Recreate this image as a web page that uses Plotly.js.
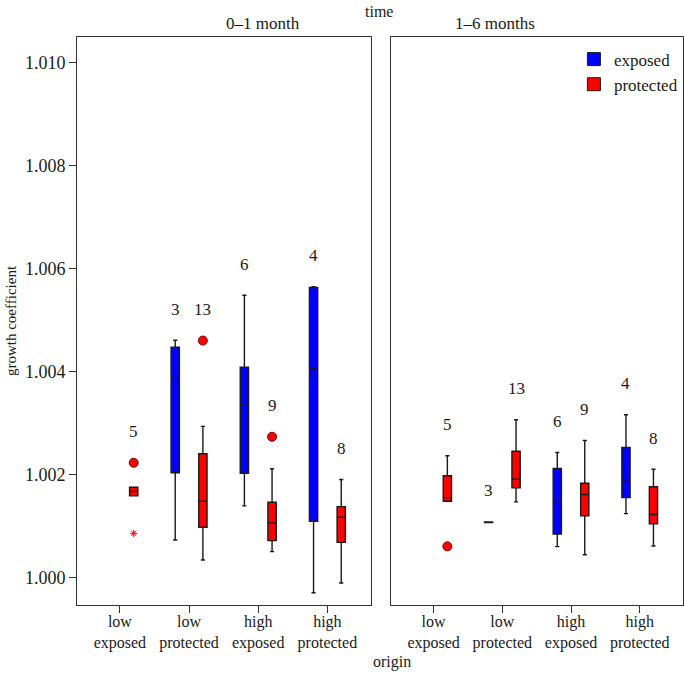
<!DOCTYPE html>
<html>
<head>
<meta charset="utf-8">
<script src="https://cdn.plot.ly/plotly-3.0.1.min.js"></script>
<style>
  html, body { margin: 0; padding: 0; background: #fff; }
</style>
</head>
<body>
<div id="plot" style="width:684px;height:673px;"></div>
<script>
// origin groups on the x axis
var categories = ["low<br>exposed", "low<br>protected", "high<br>exposed", "high<br>protected"];
var panels = ["0\u20131 month", "1\u20136 months"];

// 0-1 month, exposed (blue); null = no data
var exp01_lo  = [null, 1.000733, 1.001395, 0.999708];
var exp01_q1  = [null, 1.002037, 1.002029, 1.001095];
var exp01_med = [null, 1.003852, 1.003352, 1.004053];
var exp01_q3  = [null, 1.004475, 1.004086, 1.005636];
var exp01_hi  = [null, 1.004611, 1.005486, 1.005650];
var exp01_n   = [null, 3, 6, 4];

// 0-1 month, protected (red)
var pro01_lo  = [1.001590, 1.000344, 1.000506, 0.999897];
var pro01_q1  = [1.001590, 1.000979, 1.000720, 1.000687];
var pro01_med = [1.001673, 1.001484, 1.001064, 1.001173];
var pro01_q3  = [1.001757, 1.002407, 1.001465, 1.001381];
var pro01_hi  = [1.001757, 1.002938, 1.002115, 1.001907];
var pro01_n   = [5, 13, 9, 8];

// 1-6 months, exposed (blue)
var exp16_lo  = [null, 1.001070, 1.000603, 1.001245];
var exp16_q1  = [null, 1.001070, 1.000850, 1.001556];
var exp16_med = [null, 1.001076, 1.001479, 1.001874];
var exp16_q3  = [null, 1.001082, 1.002121, 1.002529];
var exp16_hi  = [null, 1.001082, 1.002432, 1.003165];
var exp16_n   = [null, 3, 6, 4];

// 1-6 months, protected (red)
var pro16_lo  = [1.001484, 1.001473, 1.000447, 1.000617];
var pro16_q1  = [1.001484, 1.001745, 1.001200, 1.001045];
var pro16_med = [1.001556, 1.001912, 1.001615, 1.001226];
var pro16_q3  = [1.001979, 1.002457, 1.001835, 1.001765];
var pro16_hi  = [1.002368, 1.003068, 1.002665, 1.002107];
var pro16_n   = [5, 13, 9, 8];

// outliers (circles) and extremes (stars), protected series only
var pro01_outCat = [0, 1, 2];
var pro01_outVal = [1.002232, 1.004605, 1.002737];
var pro01_extCat = [0];
var pro01_extVal = [1.000862];
var pro16_outCat = [0];
var pro16_outVal = [1.000609];

var blue = "#0000ff";
var red = "#ff0000";
var serif = "Liberation Serif, Times New Roman, serif";
var ink = "#1a1a1a";
var shift = 0.2;      // offset of each box from its category tick
var boxW = 0.12;

function f(size) { return { family: serif, size: size, color: ink }; }

var traces = [];
var annotations = [];

function addSeries(s, color, dx, xa, ya, outCat, outVal, extCat, extVal) {
  var xs = [], q1 = [], med = [], q3 = [], lo = [], hi = [];
  for (var i = 0; i < categories.length; i++) {
    if (s.n[i] == null) continue;
    xs.push(i + dx);
    q1.push(s.q1[i]); med.push(s.med[i]); q3.push(s.q3[i]);
    lo.push(s.lo[i]); hi.push(s.hi[i]);

    // count label sits above the highest point of the box
    var top = s.hi[i];
    (outCat || []).forEach(function (c, k) { if (c === i) top = Math.max(top, outVal[k]); });
    annotations.push({
      x: i + dx, y: top, xref: xa, yref: ya, text: String(s.n[i]),
      showarrow: false, yshift: 31, font: f(17)
    });
  }
  traces.push({
    type: "box", x: xs, q1: q1, median: med, q3: q3,
    lowerfence: lo, upperfence: hi,
    width: boxW, whiskerwidth: 0.5, boxpoints: false,
    fillcolor: color, line: { color: ink, width: 1.4 },
    xaxis: xa, yaxis: ya, showlegend: false, hoverinfo: "skip"
  });
  if (outCat) {
    traces.push({
      type: "scatter", mode: "markers",
      x: outCat.map(function (c) { return c + dx; }), y: outVal,
      marker: { symbol: "circle", size: 9, color: color, line: { color: "#800000", width: 1 } },
      xaxis: xa, yaxis: ya, showlegend: false, hoverinfo: "skip"
    });
  }
  if (extCat) {
    traces.push({
      type: "scatter", mode: "markers",
      x: extCat.map(function (c) { return c + dx; }), y: extVal,
      marker: { symbol: "asterisk-open", size: 6, color: color, line: { color: color, width: 1 } },
      xaxis: xa, yaxis: ya, showlegend: false, hoverinfo: "skip"
    });
  }
}

addSeries({ lo: exp01_lo, q1: exp01_q1, med: exp01_med, q3: exp01_q3, hi: exp01_hi, n: exp01_n },
  blue, -shift, "x", "y");
addSeries({ lo: pro01_lo, q1: pro01_q1, med: pro01_med, q3: pro01_q3, hi: pro01_hi, n: pro01_n },
  red, shift, "x", "y", pro01_outCat, pro01_outVal, pro01_extCat, pro01_extVal);
addSeries({ lo: exp16_lo, q1: exp16_q1, med: exp16_med, q3: exp16_q3, hi: exp16_hi, n: exp16_n },
  blue, -shift, "x2", "y2");
addSeries({ lo: pro16_lo, q1: pro16_q1, med: pro16_med, q3: pro16_q3, hi: pro16_hi, n: pro16_n },
  red, shift, "x2", "y2", pro16_outCat, pro16_outVal);

// legend entries
[["exposed", blue], ["protected", red]].forEach(function (d) {
  traces.push({
    type: "scatter", mode: "markers", x: [null], y: [null], name: d[0],
    marker: { symbol: "square", size: 13, color: d[1], line: { color: ink, width: 1 } },
    xaxis: "x2", yaxis: "y2"
  });
});

// facet and axis titles
annotations.push(
  { text: panels[0], x: 0.2425, y: 1, xref: "paper", yref: "paper", yanchor: "bottom", yshift: 2, showarrow: false, font: f(17) },
  { text: panels[1], x: 0.759, y: 1, xref: "paper", yref: "paper", yanchor: "bottom", yshift: 2, showarrow: false, font: f(17) },
  { text: "time", x: 0.498, y: 1, xref: "paper", yref: "paper", yanchor: "bottom", yshift: 15, showarrow: false, font: f(16) },
  { text: "origin", x: 0.52, y: 0, xref: "paper", yref: "paper", yanchor: "top", yshift: -46, showarrow: false, font: f(16) }
);

var xcommon = {
  range: [-0.62, 3.63], tickvals: [0, 1, 2, 3], ticktext: categories,
  ticks: "outside", ticklen: 7, tickcolor: "#333", ticklabelstandoff: -5,
  showline: true, mirror: true, linecolor: "#333", linewidth: 1,
  showgrid: false, zeroline: false, tickfont: f(16)
};
var ycommon = {
  range: [0.99947, 1.0105], tick0: 1.0, dtick: 0.002, tickformat: ".3f",
  showline: true, mirror: true, linecolor: "#333", linewidth: 1,
  showgrid: false, zeroline: false
};

var layout = {
  width: 684, height: 673,
  margin: { l: 77, r: 1, t: 37, b: 68 },
  paper_bgcolor: "#fff", plot_bgcolor: "#fff",
  font: f(16),
  boxmode: "overlay",
  xaxis: Object.assign({ domain: [0, 0.4851], anchor: "y" }, xcommon),
  xaxis2: Object.assign({ domain: [0.5182, 1], anchor: "y2" }, xcommon),
  yaxis: Object.assign({
    anchor: "x", ticks: "outside", ticklen: 7, tickcolor: "#333",
    tickfont: f(18),
    title: { text: "growth coefficient", font: f(15), standoff: 4 }
  }, ycommon),
  yaxis2: Object.assign({ anchor: "x2", matches: "y", showticklabels: false, ticks: "" }, ycommon),
  legend: {
    x: 0.82, y: 0.992, xanchor: "left", yanchor: "top",
    bgcolor: "rgba(0,0,0,0)", font: f(17), itemwidth: 30, tracegroupgap: 0
  },
  annotations: annotations
};

Plotly.newPlot("plot", traces, layout, { staticPlot: true });
</script>
</body>
</html>
